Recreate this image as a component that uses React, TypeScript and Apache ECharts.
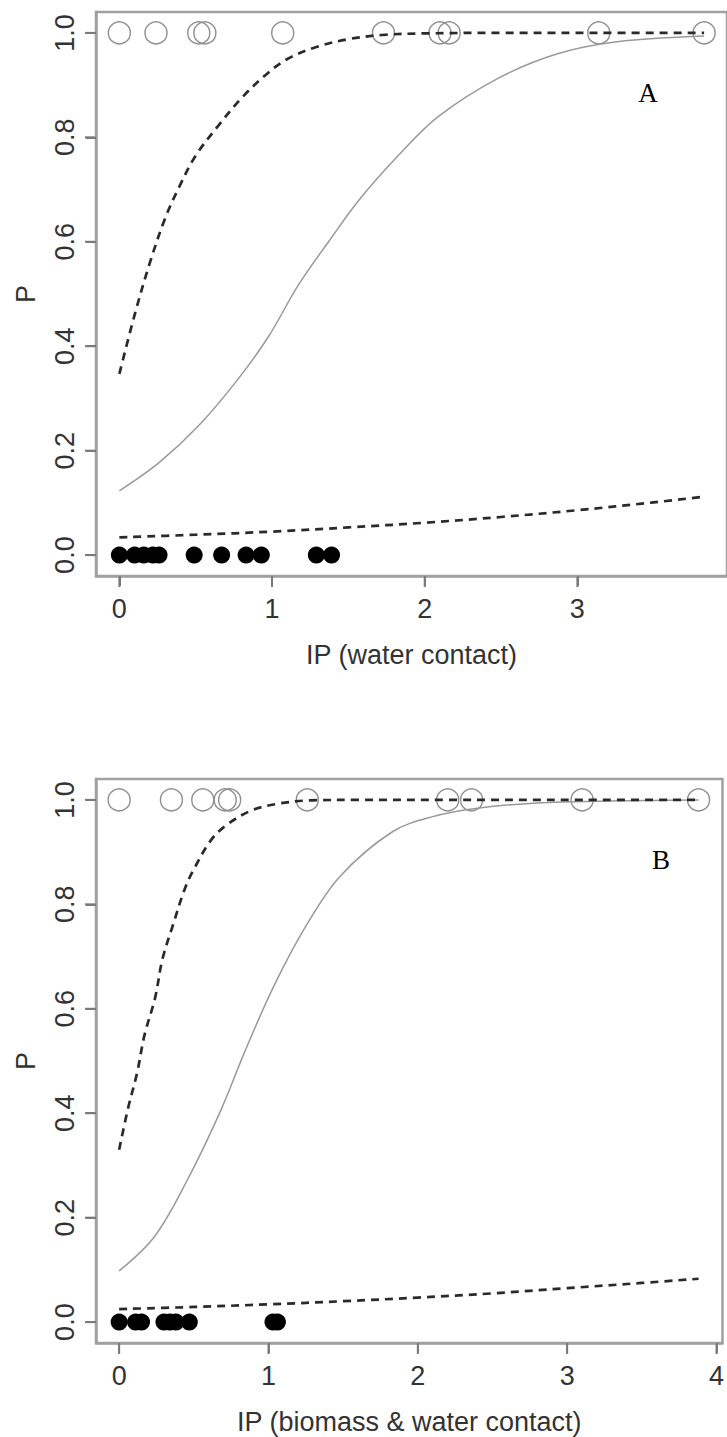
import React, { useEffect, useRef } from "react";
import * as echarts from "echarts";

// ---------- Panel A: IP (water contact) ----------
const aOpenX = [0, 0.24, 0.52, 0.56, 1.07, 1.73, 2.1, 2.16, 3.14, 3.83];
const aFilledX = [0, 0.1, 0.16, 0.22, 0.26, 0.49, 0.67, 0.83, 0.93, 1.29, 1.39];
const aFitX = [0, 0.26, 0.52, 0.78, 0.98, 1.17, 1.37, 1.57, 1.83, 2.09, 2.48, 2.87, 3.26, 3.83];
const aFitP = [0.123, 0.177, 0.248, 0.338, 0.42, 0.516, 0.6, 0.68, 0.766, 0.84, 0.913, 0.96, 0.983, 0.994];
const aUpperX = [0, 0.1, 0.2, 0.3, 0.4, 0.5, 0.65, 0.8, 0.96, 1.1, 1.29, 1.5, 1.72, 2.0, 2.5, 3.0, 3.83];
const aUpperP = [0.347, 0.46, 0.56, 0.645, 0.71, 0.765, 0.823, 0.875, 0.92, 0.95, 0.973, 0.988, 0.996, 0.999, 1.0, 1.0, 1.0];
const aLowerX = [0, 0.5, 1, 1.5, 2, 2.5, 3, 3.5, 3.83];
const aLowerP = [0.034, 0.039, 0.045, 0.053, 0.062, 0.073, 0.086, 0.101, 0.112];

// ---------- Panel B: IP (biomass & water contact) ----------
const bOpenX = [0, 0.35, 0.56, 0.71, 0.74, 1.26, 2.2, 2.36, 3.1, 3.88];
const bFilledX = [0, 0.11, 0.15, 0.3, 0.34, 0.38, 0.47, 1.03, 1.06];
const bFitX = [0, 0.24, 0.46, 0.68, 0.84, 1.035, 1.256, 1.48, 1.83, 2.1, 2.4, 2.8, 3.3, 3.88];
const bFitP = [0.098, 0.165, 0.274, 0.405, 0.517, 0.643, 0.761, 0.854, 0.939, 0.968, 0.984, 0.994, 0.998, 1.0];
const bUpperX = [0, 0.06, 0.12, 0.17, 0.24, 0.29, 0.36, 0.44, 0.5, 0.615, 0.72, 0.88, 1.05, 1.28, 1.6, 2.2, 3.1, 3.88];
const bUpperP = [0.33, 0.41, 0.477, 0.55, 0.62, 0.695, 0.76, 0.83, 0.867, 0.923, 0.952, 0.979, 0.992, 0.999, 1.0, 1.0, 1.0, 1.0];
const bLowerX = [0, 0.5, 1, 1.5, 2, 2.5, 3, 3.5, 3.88];
const bLowerP = [0.025, 0.029, 0.034, 0.04, 0.047, 0.055, 0.065, 0.075, 0.083];

const yTicks = [0, 0.2, 0.4, 0.6, 0.8, 1.0];
const aXTicks = [0, 1, 2, 3];
const bXTicks = [0, 1, 2, 3, 4];
const aXRange = [-0.153, 3.98];
const bXRange = [-0.155, 4.04];
const yRange = [-0.04, 1.04];
const aTitle = "IP (water contact)";
const bTitle = "IP (biomass & water contact)";
const yTitle = "P";
const panelLabels = ["A", "B"];

const FONT = "Liberation Sans, Arial, Helvetica, sans-serif";
const TEXT = "#333";
const BOX = "#a0a0a0";
const TICK = "#7a7a7a";

const pairs = (xs: number[], ys: number[]) => xs.map((x, i) => [x, ys[i]]);

function xAxisCfg(idx: number, range: number[], ticks: number[], name: string) {
  return {
    type: "value",
    gridIndex: idx,
    min: range[0],
    max: range[1],
    name,
    nameLocation: "middle",
    nameGap: 65,
    nameTextStyle: { fontFamily: FONT, fontSize: 27, color: TEXT },
    axisLine: { show: true, onZero: false, lineStyle: { color: BOX, width: 2.5 } },
    splitLine: { show: false },
    axisTick: { show: true, length: 10, customValues: ticks, lineStyle: { color: TICK, width: 2 } },
    axisLabel: {
      customValues: ticks,
      margin: 19,
      fontFamily: FONT,
      fontSize: 27,
      color: TEXT,
      formatter: (v: number) => String(Math.round(v)),
    },
  };
}

function yAxisCfg(idx: number) {
  return {
    type: "value",
    gridIndex: idx,
    min: yRange[0],
    max: yRange[1],
    name: yTitle,
    nameLocation: "middle",
    nameRotate: 90,
    nameGap: 57,
    nameTextStyle: { fontFamily: FONT, fontSize: 27, color: TEXT },
    axisLine: { show: true, onZero: false, lineStyle: { color: BOX, width: 2.5 } },
    splitLine: { show: false },
    axisTick: { show: true, length: 10, customValues: yTicks, lineStyle: { color: TICK, width: 2 } },
    axisLabel: {
      customValues: yTicks,
      rotate: 90,
      margin: 18,
      fontFamily: FONT,
      fontSize: 27,
      color: TEXT,
      formatter: (v: number) => v.toFixed(1),
    },
  };
}

// tick marks drawn as small bars through the axes' own scales, just outside the box
function tickSeries(idx: number, xRange: number[], xTicks: number[]) {
  const common = { xAxisIndex: idx, yAxisIndex: idx, silent: true, type: "scatter", clip: false, z: 1 };
  return [
    {
      ...common,
      symbol: "rect",
      symbolSize: [10, 2],
      symbolOffset: [-6, 0],
      itemStyle: { color: TICK, opacity: 1 },
      data: yTicks.map((v) => [xRange[0], v]),
    },
    {
      ...common,
      symbol: "rect",
      symbolSize: [2, 10],
      symbolOffset: [0, 6],
      itemStyle: { color: TICK, opacity: 1 },
      data: xTicks.map((v) => [v, yRange[0]]),
    },
  ];
}

function panelSeries(
  idx: number,
  openX: number[],
  filledX: number[],
  fitX: number[],
  fitP: number[],
  upX: number[],
  upP: number[],
  loX: number[],
  loP: number[]
) {
  const common = { xAxisIndex: idx, yAxisIndex: idx, silent: true };
  const dashed = {
    ...common,
    type: "line",
    showSymbol: false,
    smooth: 0.35,
    lineStyle: { color: "#2a2a2a", width: 2.7, type: [8, 6] },
  };
  return [
    {
      ...common,
      type: "scatter",
      symbol: "circle",
      symbolSize: 22,
      itemStyle: { color: "rgba(0,0,0,0)", borderColor: "#8f8f8f", borderWidth: 1.4, opacity: 1 },
      data: openX.map((x) => [x, 1]),
    },
    {
      ...common,
      type: "scatter",
      symbol: "circle",
      symbolSize: 17,
      itemStyle: { color: "#000", opacity: 1 },
      data: filledX.map((x) => [x, 0]),
    },
    {
      ...common,
      type: "line",
      showSymbol: false,
      smooth: 0.35,
      lineStyle: { color: "#999", width: 1.5 },
      data: pairs(fitX, fitP),
    },
    { ...dashed, data: pairs(upX, upP) },
    { ...dashed, data: pairs(loX, loP) },
  ];
}

export default function App() {
  const ref = useRef<HTMLDivElement>(null);
  useEffect(() => {
    document.body.style.margin = "0";
    const chart = echarts.init(ref.current!, null, { renderer: "svg" });
    const gridCommon = {
      left: 96,
      width: 633,
      height: 564,
      show: true,
      borderColor: BOX,
      borderWidth: 2.5,
    };
    chart.setOption({
      animation: false,
      grid: [
        { ...gridCommon, top: 12 },
        { ...gridCommon, top: 779 },
      ],
      xAxis: [xAxisCfg(0, aXRange, aXTicks, aTitle), xAxisCfg(1, bXRange, bXTicks, bTitle)],
      yAxis: [yAxisCfg(0), yAxisCfg(1)],
      series: [
        ...tickSeries(0, aXRange, aXTicks),
        ...tickSeries(1, bXRange, bXTicks),
        ...panelSeries(0, aOpenX, aFilledX, aFitX, aFitP, aUpperX, aUpperP, aLowerX, aLowerP),
        ...panelSeries(1, bOpenX, bFilledX, bFitX, bFitP, bUpperX, bUpperP, bLowerX, bLowerP),
      ],
      graphic: [
        {
          type: "text",
          x: 648,
          y: 93,
          style: {
            text: panelLabels[0],
            font: "27px 'Liberation Serif', 'Times New Roman', serif",
            fill: "#000",
            align: "center",
            verticalAlign: "middle",
          },
        },
        {
          type: "text",
          x: 661,
          y: 860,
          style: {
            text: panelLabels[1],
            font: "27px 'Liberation Serif', 'Times New Roman', serif",
            fill: "#000",
            align: "center",
            verticalAlign: "middle",
          },
        },
      ],
    });
    return () => chart.dispose();
  }, []);
  return (
    <div
      ref={ref}
      style={{ position: "absolute", left: 0, top: 0, width: 727, height: 1437, background: "#fff" }}
    />
  );
}
